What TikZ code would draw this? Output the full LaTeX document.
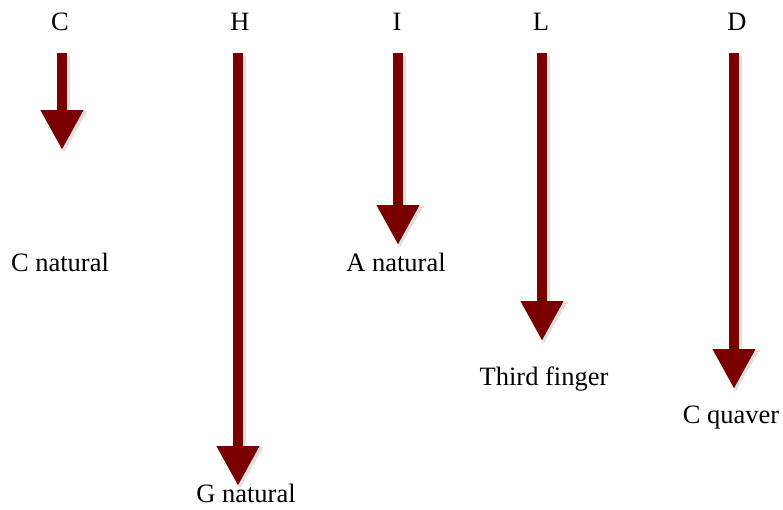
\documentclass[tikz,border=0pt]{standalone}
\usepackage{fontspec}
\setmainfont{Liberation Serif}
\usetikzlibrary{arrows.meta}
\definecolor{noteRed}{RGB}{122,0,0}

\begin{document}
\begin{tikzpicture}[x=1pt, y=-1pt,
    every node/.style={font=\fontsize{26.5}{30}\selectfont, inner sep=0pt},
    bigarrow/.style={noteRed, line width=10pt,
      -{Triangle[width=40pt, length=40pt]},
      preaction={draw=black, opacity=0.12, line width=12pt, transform canvas={shift={(2pt,-3pt)}},
        -{Triangle[width=44pt, length=42pt]}}}]
    \useasboundingbox (0,0) rectangle (783,509);
    % Letters
    \node (c) at (60,22) {C};
    \node (h) at (240,22) {H};
    \node (i) at (397,22) {I};
    \node (l) at (541,22) {L};
    \node (d) at (737,22) {D};
    % Meanings
    \node (cnat) at (60,262) {C natural};
    \node (gnat) at (246,493) {G natural};
    \node (anat) at (396,262) {A natural};
    \node (third) at (544,379) {Third finger};
    \node (quaver) at (731,418) {C quaver};
    % Arrow ends
    \coordinate (c0) at (62,53);   \coordinate (c1) at (62,150);
    \coordinate (h0) at (238,53);  \coordinate (h1) at (238,486);
    \coordinate (i0) at (398,53);  \coordinate (i1) at (398,245);
    \coordinate (l0) at (542,53);  \coordinate (l1) at (542,341);
    \coordinate (d0) at (734,53);  \coordinate (d1) at (734,389);
    % Arrows
    \draw[bigarrow] (c0) -- (c1);
    \draw[bigarrow] (h0) -- (h1);
    \draw[bigarrow] (i0) -- (i1);
    \draw[bigarrow] (l0) -- (l1);
    \draw[bigarrow] (d0) -- (d1);
\end{tikzpicture}
\end{document}
